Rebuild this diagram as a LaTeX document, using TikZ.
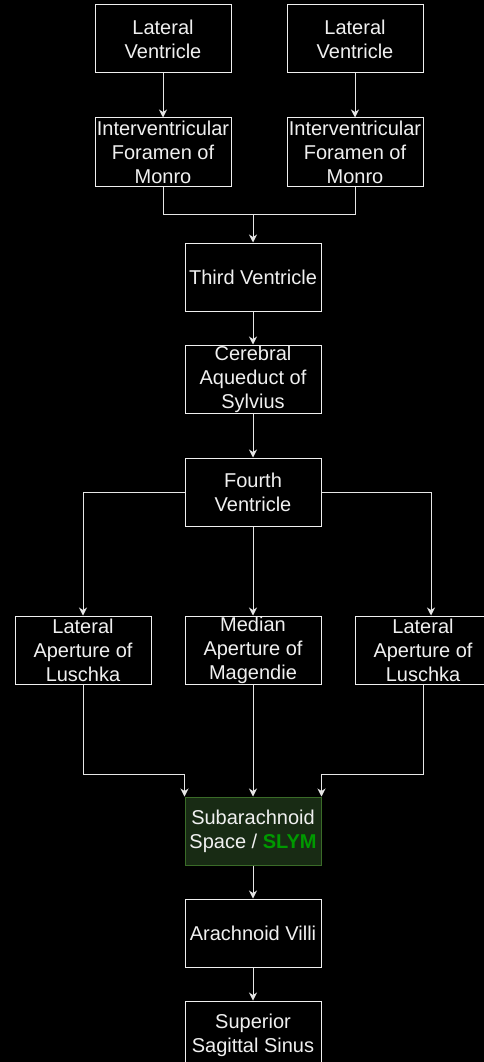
\documentclass[tikz,border=0pt]{standalone}
\usepackage{fontspec}
\setmainfont{Liberation Sans}
\usetikzlibrary{arrows.meta}
\definecolor{txt}{HTML}{F0F0F0}
\definecolor{edge}{HTML}{E6E6E6}
\definecolor{gfill}{HTML}{182B14}
\definecolor{gline}{HTML}{3A6B28}
\definecolor{slym}{HTML}{009900}
\tikzset{
  box/.style={draw=txt, line width=1pt, fill=black, text=txt, minimum width=136pt, minimum height=68pt, inner sep=0pt, align=center, font=\fontsize{20}{24}\selectfont},
  greenbox/.style={box, draw=gline, fill=gfill},
  line/.style={draw=edge, line width=1pt},
  arr/.style={line, -{Stealth[length=8pt,width=8pt,inset=2.5pt]}}
}
\begin{document}
\begin{tikzpicture}[x=1pt,y=-1pt]
\fill[black] (0,0) rectangle (484,1062);
\useasboundingbox (0,0) rectangle (484,1062);
\begin{scope}
\clip (0,0) rectangle (484,1062);
\node[box] (LV1) at (163,39) {Lateral\\Ventricle};
\node[box] (LV2) at (355,39) {Lateral\\Ventricle};
\node[box] (IF1) at (163,152) {Interventricular\\Foramen of\\Monro};
\node[box] (IF2) at (355,152) {Interventricular\\Foramen of\\Monro};
\node[box] (TV) at (253,277) {Third Ventricle};
\node[box] (CA) at (253,379) {Cerebral\\Aqueduct of\\Sylvius};
\node[box] (FV) at (253,492) {Fourth\\Ventricle};
\node[box] (LA1) at (83,650) {Lateral\\Aperture of\\Luschka};
\node[box] (MA) at (253,650) {Median\\Aperture of\\Magendie};
\node[box] (LA2) at (423,650) {Lateral\\Aperture of\\Luschka};
\node[greenbox] (SAS) at (253,831) {Subarachnoid\\Space / \textcolor{slym}{\textbf{SLYM}}};
\node[box] (AV) at (253,933) {Arachnoid Villi};
\node[box] (SSS) at (253,1035) {Superior\\Sagittal Sinus};

\draw[arr] (LV1) -- (IF1);
\draw[arr] (LV2) -- (IF2);
\coordinate (j1) at (253,214);
\draw[line] (IF1.south) |- (j1);
\draw[line] (IF2.south) |- (j1);
\draw[arr] (j1) -- (TV.north);
\draw[arr] (TV) -- (CA);
\draw[arr] (CA) -- (FV);
\draw[arr] (FV.west) -| (LA1.north);
\draw[arr] (FV.east) -| ([xshift=8pt]LA2.north);
\draw[arr] (FV) -- (MA);
\draw[arr] (LA1.south) |- ([yshift=22pt]SAS.north west) -- (SAS.north west);
\draw[arr] (LA2.south) |- ([yshift=22pt]SAS.north east) -- (SAS.north east);
\draw[arr] (MA) -- (SAS);
\draw[arr] (SAS) -- (AV);
\draw[arr] (AV) -- (SSS);
\end{scope}
\end{tikzpicture}
\end{document}
